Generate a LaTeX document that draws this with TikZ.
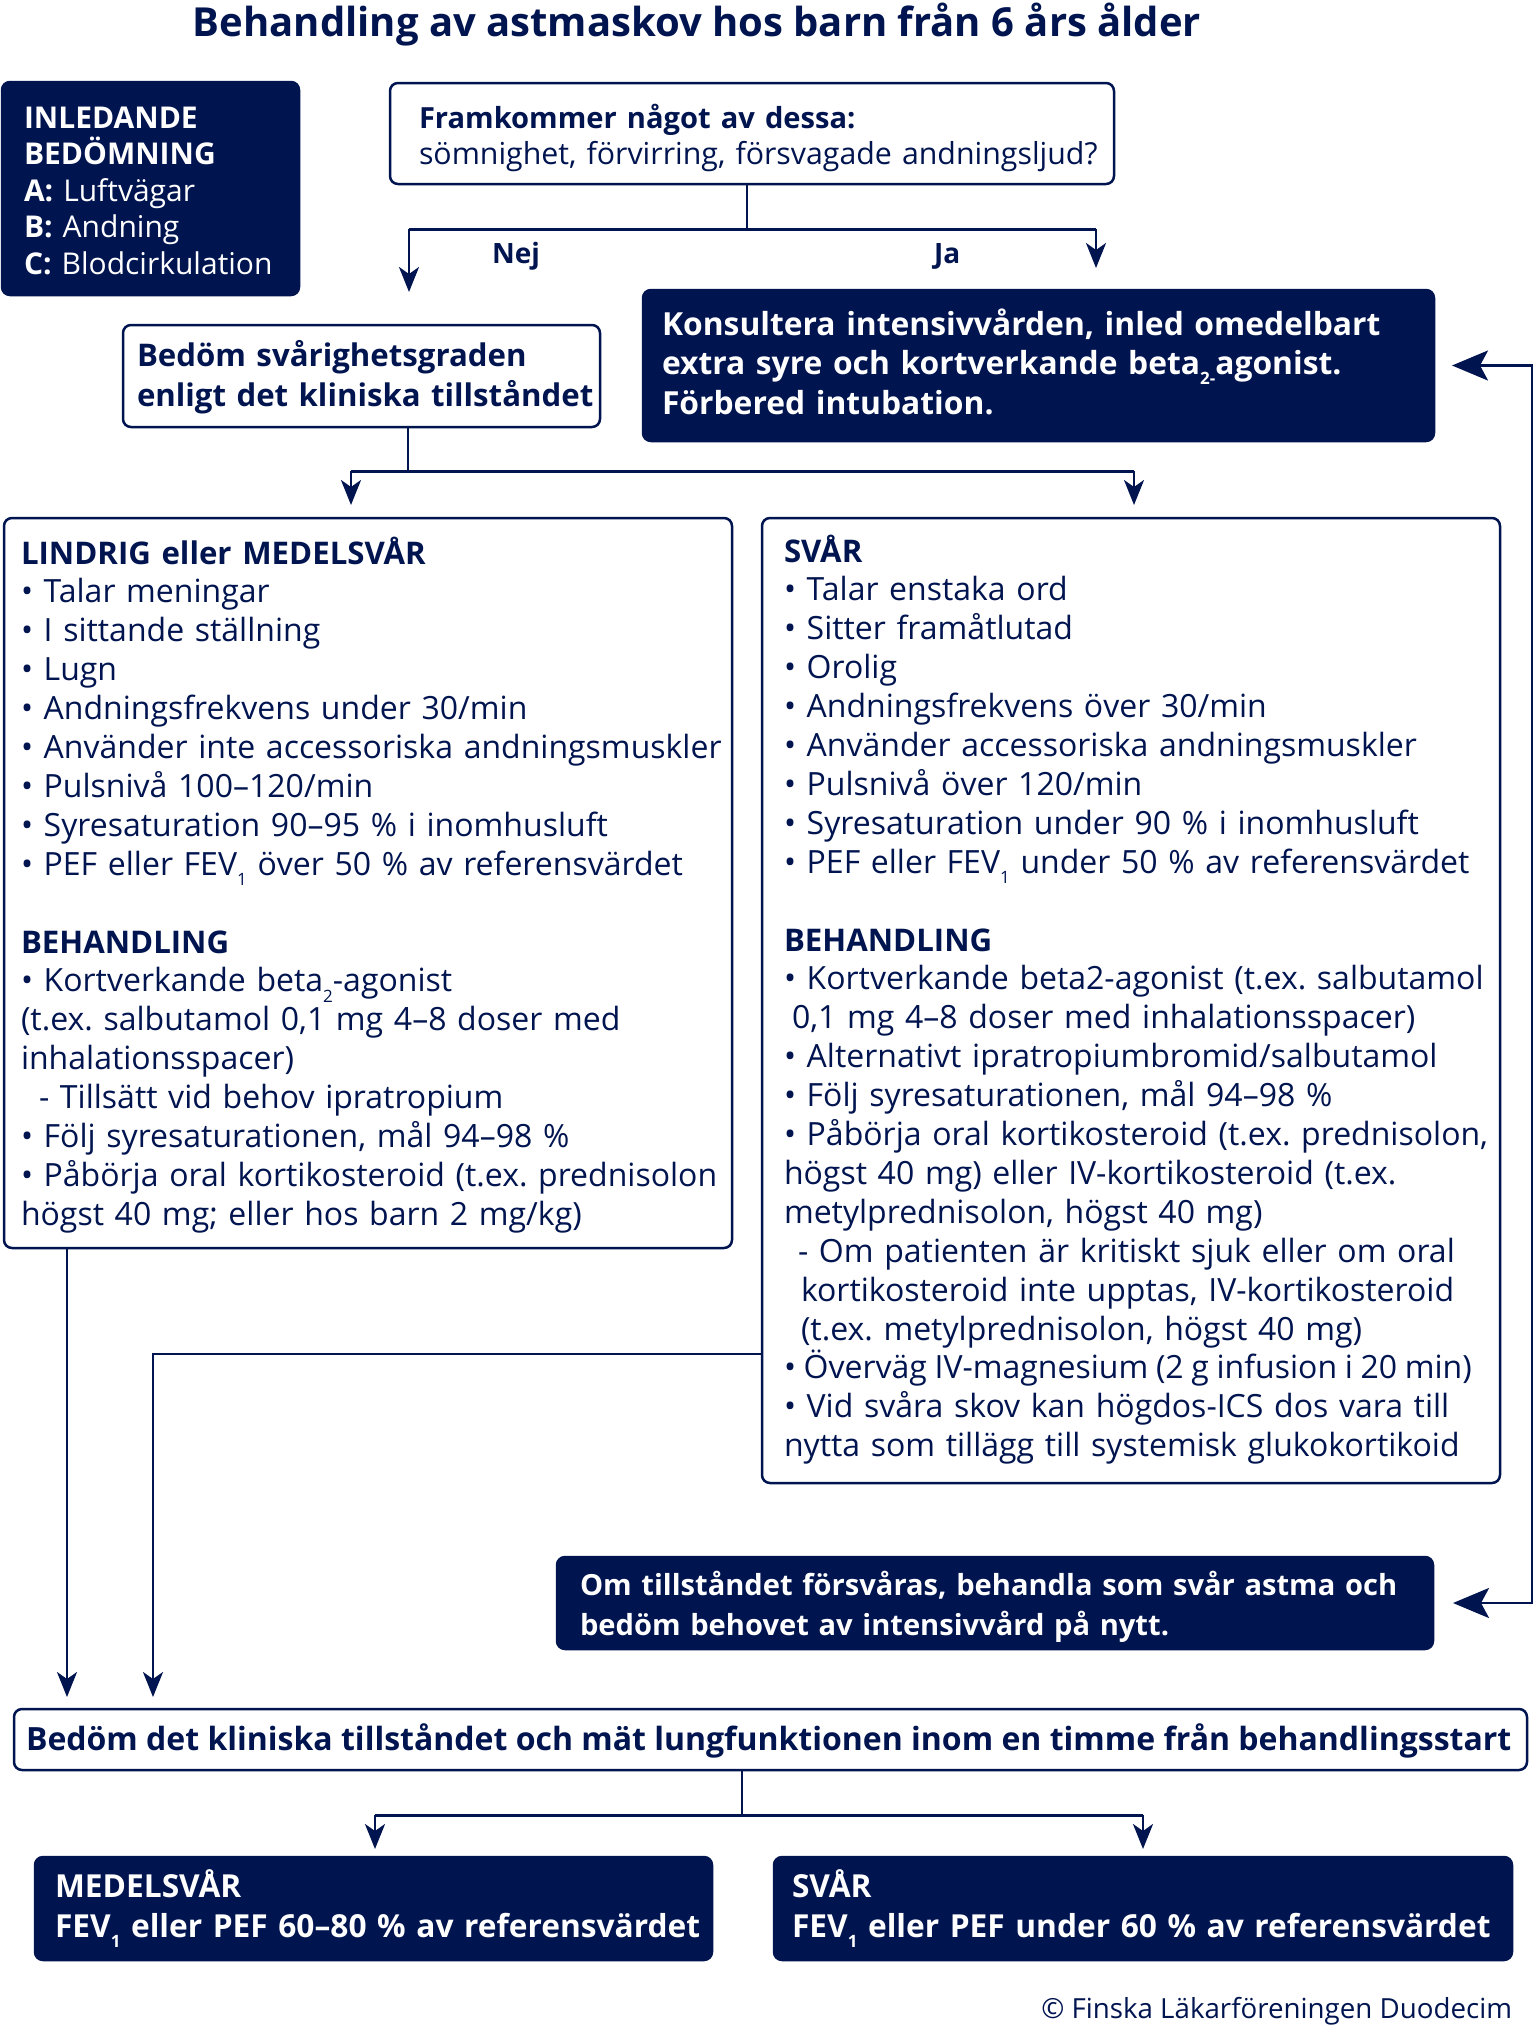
\documentclass[tikz,border=0pt]{standalone}
\usepackage{fontspec}
\setmainfont{Open Sans}
\usetikzlibrary{arrows.meta}
\definecolor{navy}{HTML}{001450}
\frenchspacing
\newcommand{\lowsub}[1]{\raisebox{-0.33em}{\fontsize{17}{17}\selectfont #1}}
\newcommand{\hdl}[1]{{\fontsize{31.2}{38.9}\selectfont\bfseries #1}}
\begin{document}
\begin{tikzpicture}[x=1pt,y=-1pt,
  wbox/.style={draw=navy, line width=2.5pt, fill=white, rounded corners=8pt, inner sep=0pt, outer sep=0pt, anchor=north west},
  dbox/.style={draw=navy, fill=navy, line width=2.5pt, rounded corners=8pt, inner sep=0pt, outer sep=0pt, anchor=north west},
  txt/.style={anchor=base west, inner sep=0pt, outer sep=0pt, align=left, text=navy},
  wtxt/.style={txt, text=white},
  ln/.style={draw=navy, line width=2.6pt},
  bar/.style={draw=navy, line width=3pt},
  arr/.style={draw=navy, line width=2.6pt, -{Stealth[length=25pt,width=20pt,inset=7pt]}},
  bigarr/.style={draw=navy, line width=2.8pt, {Stealth[length=36pt,width=30pt,inset=8pt]}-{Stealth[length=36pt,width=30pt,inset=8pt]}},
]
\useasboundingbox (0,0) rectangle (1537,2029);

% title
\node[txt, anchor=base, font=\fontsize{40}{48}\selectfont\bfseries] (title) at (697,36) {Behandling av astmaskov hos barn från 6 års ålder};

% boxes
\node[dbox, minimum width=297pt, minimum height=213pt] (inl) at (2,82) {};
\node[wbox, minimum width=724pt, minimum height=101pt] (q) at (390,83) {};
\node[wbox, minimum width=477pt, minimum height=102pt] (bed) at (123,325) {};
\node[dbox, minimum width=791pt, minimum height=151pt] (kons) at (643,290) {};
\node[wbox, minimum width=728pt, minimum height=730pt] (left) at (4,518) {};
\node[wbox, minimum width=738pt, minimum height=965pt] (right) at (762,518) {};
\node[dbox, minimum width=876pt, minimum height=92pt] (om) at (557,1557) {};
\node[wbox, minimum width=1513pt, minimum height=61pt] (bdt) at (14,1709) {};
\node[dbox, minimum width=677pt, minimum height=103pt] (med) at (35,1857) {};
\node[dbox, minimum width=738pt, minimum height=103pt] (svr) at (774,1857) {};

% texts
\node[wtxt, text width=290pt, font=\fontsize{30}{36.5}\selectfont] (inlt) at (24,128)
  {\textbf{INLEDANDE}\\\textbf{BEDÖMNING}\\\textbf{A:} Luftvägar\\\textbf{B:} Andning\\\textbf{C:} Blodcirkulation};
\node[txt, text width=720pt, font=\fontsize{30.3}{36}\selectfont] (qt) at (419,128)
  {{\fontsize{29.1}{36}\selectfont\bfseries Framkommer något av dessa:}\\sömnighet, förvirring, försvagade andningsljud?};
\node[txt, font=\fontsize{28}{34}\selectfont\bfseries] (nej) at (492,263) {Nej};
\node[txt, font=\fontsize{28}{34}\selectfont\bfseries] (ja) at (934,263) {Ja};
\node[txt, text width=490pt, font=\fontsize{31.2}{40}\selectfont\bfseries] (bedt) at (137,366)
  {Bedöm svårighetsgraden\\enligt det kliniska tillståndet};
\node[wtxt, text width=800pt, font=\fontsize{31.8}{39.5}\selectfont\bfseries] (konst) at (662,335)
  {Konsultera intensivvården, inled omedelbart\\extra syre och kortverkande beta\lowsub{2-}agonist.\\Förbered intubation.};

\node[txt, text width=740pt, font=\fontsize{32}{38.9}\selectfont] (leftt) at (21,564)
  {\hdl{LINDRIG eller MEDELSVÅR}\\
   • Talar meningar\\
   • I sittande ställning\\
   • Lugn\\
   • Andningsfrekvens under 30/min\\
   • Använder inte accessoriska andningsmuskler\\
   • Pulsnivå 100–120/min\\
   • Syresaturation 90–95 \% i inomhusluft\\
   • PEF eller FEV\lowsub{1} över 50 \% av referensvärdet\\[38.9pt]
   \hdl{BEHANDLING}\\
   • Kortverkande beta\lowsub{2}-agonist\\
   (t.ex. salbutamol 0,1 mg 4–8 doser med\\
   inhalationsspacer)\\
   \hspace*{18pt}- Tillsätt vid behov ipratropium\\
   • Följ syresaturationen, mål 94–98 \%\\
   • Påbörja oral kortikosteroid (t.ex. prednisolon\\
   högst 40 mg; eller hos barn 2 mg/kg)};

\node[txt, text width=750pt, font=\fontsize{32}{38.9}\selectfont] (rightt) at (784,562)
  {\hdl{SVÅR}\\
   • Talar enstaka ord\\
   • Sitter framåtlutad\\
   • Orolig\\
   • Andningsfrekvens över 30/min\\
   • Använder accessoriska andningsmuskler\\
   • Pulsnivå över 120/min\\
   • Syresaturation under 90 \% i inomhusluft\\
   • PEF eller FEV\lowsub{1} under 50 \% av referensvärdet\\[38.9pt]
   \hdl{BEHANDLING}\\
   • Kortverkande beta2-agonist (t.ex. salbutamol\\
   \hspace*{8pt}0,1 mg 4–8 doser med inhalationsspacer)\\
   • Alternativt ipratropiumbromid/salbutamol\\
   • Följ syresaturationen, mål 94–98 \%\\
   • Påbörja oral kortikosteroid (t.ex. prednisolon,\\
   högst 40 mg) eller IV-kortikosteroid (t.ex.\\
   metylprednisolon, högst 40 mg)\\
   \hspace*{14pt}- Om patienten är kritiskt sjuk eller om oral\\
   \hspace*{17pt}kortikosteroid inte upptas, IV-kortikosteroid\\
   \hspace*{17pt}(t.ex. metylprednisolon, högst 40 mg)\\
   {\spaceskip=0.92\fontdimen2\font\relax • Överväg IV-magnesium (2 g infusion i 20 min)}\\
   • Vid svåra skov kan högdos-ICS dos vara till\\
   nytta som tillägg till systemisk glukokortikoid};

\node[wtxt, text width=880pt, font=\fontsize{29.1}{40}\selectfont\bfseries] (omt) at (580,1595)
  {Om tillståndet försvåras, behandla som svår astma och\\bedöm behovet av intensivvård på nytt.};
\node[txt, font=\fontsize{32}{36}\selectfont\bfseries] (bdtt) at (26,1750)
  {Bedöm det kliniska tillståndet och mät lungfunktionen inom en timme från behandlingsstart};
\node[wtxt, text width=690pt, font=\fontsize{31.7}{40}\selectfont\bfseries] (medt) at (55,1897)
  {MEDELSVÅR\\FEV\lowsub{1} eller PEF 60–80 \% av referensvärdet};
\node[wtxt, text width=740pt, font=\fontsize{31.7}{40}\selectfont\bfseries] (svrt) at (792,1897)
  {SVÅR\\FEV\lowsub{1} eller PEF under 60 \% av referensvärdet};
\node[txt, anchor=base east, font=\fontsize{27.7}{30}\selectfont] (copy) at (1512,2018)
  {© Finska Läkarföreningen Duodecim};

% connectors: question
\coordinate (qj) at (747,229);
\coordinate (nejtip) at (409,292);
\coordinate (jatip) at (1096,268);
\draw[ln] (q.south -| qj) -- (qj);
\draw[bar] (nejtip |- qj) -- (jatip |- qj);
\draw[arr] (nejtip |- qj) -- (nejtip);
\draw[arr] (jatip |- qj) -- (jatip);

% connectors: severity
\coordinate (bj) at (408,471);
\coordinate (ltip) at (351,505);
\coordinate (rtip) at (1134,505);
\draw[ln] (bed.south -| bj) -- (bj);
\draw[bar] (ltip |- bj) -- (rtip |- bj);
\draw[arr] (ltip |- bj) -- (ltip);
\draw[arr] (rtip |- bj) -- (rtip);

% feedback loop on the right
\coordinate (fbx) at (1532,0);
\draw[bigarr] ([xshift=18pt]kons.east) -- (kons.east -| fbx) -- (om.east -| fbx) -- ([xshift=20pt]om.east);

% down to reassessment
\coordinate (a1) at (67,1697);
\coordinate (a2) at (153,1697);
\coordinate (rj) at (762,1354);
\draw[arr] (left.south -| a1) -- (a1);
\draw[arr] (right.west |- rj) -| (a2);

% reassessment outcomes
\coordinate (cj) at (742,1815);
\coordinate (mtip) at (375,1849);
\coordinate (stip) at (1143,1849);
\draw[ln] (bdt.south -| cj) -- (cj);
\draw[bar] (mtip |- cj) -- (stip |- cj);
\draw[arr] (mtip |- cj) -- (mtip);
\draw[arr] (stip |- cj) -- (stip);
\end{tikzpicture}
\end{document}
